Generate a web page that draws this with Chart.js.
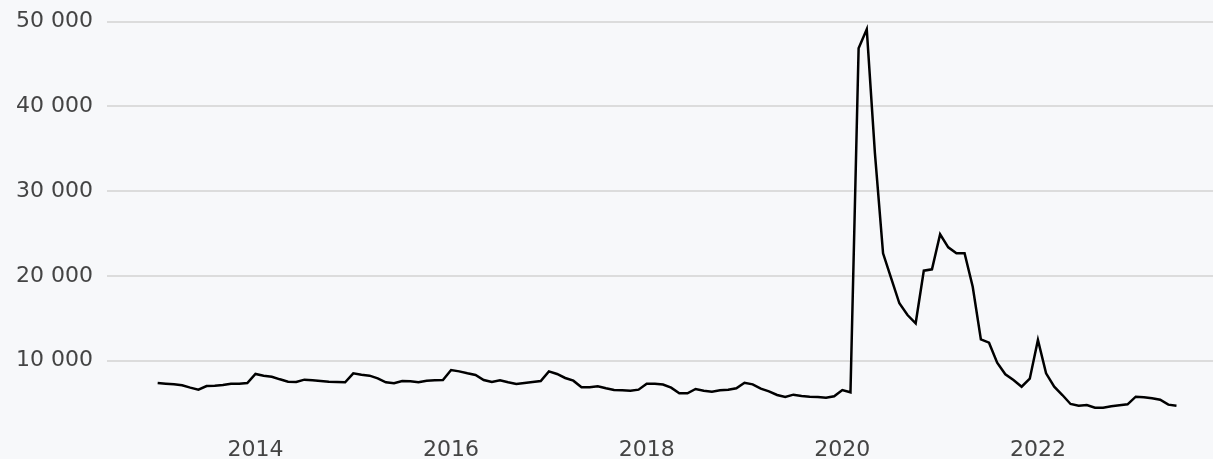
<!DOCTYPE html>
<html>
<head>
<meta charset="utf-8">
<script src="https://cdn.jsdelivr.net/npm/chart.js@4"></script>
<style>
  html, body { margin: 0; padding: 0; background: #f7f8fa; }
  #wrap { width: 1213px; height: 459px; }
</style>
</head>
<body>
<div id="wrap"><canvas id="c" width="1213" height="459"></canvas></div>
<script>
// Monthly series, January 2013 to June 2023
const startYear = 2013;
const values = [
  7370, 7290, 7210, 7090, 6820, 6580, 7010, 7050, 7130, 7290, 7290, 7370,   // 2013
  8430, 8230, 8110, 7800, 7520, 7480, 7760, 7680, 7600, 7520, 7480, 7450,   // 2014
  8510, 8350, 8230, 7920, 7450, 7330, 7600, 7560, 7450, 7640, 7680, 7720,   // 2015
  8900, 8740, 8510, 8310, 7720, 7480, 7680, 7450, 7250, 7370, 7480, 7600,   // 2016
  8740, 8430, 7960, 7640, 6860, 6860, 6980, 6740, 6540, 6500, 6460, 6580,   // 2017
  7290, 7290, 7190, 6820, 6150, 6150, 6660, 6460, 6340, 6500, 6580, 6740,   // 2018
  7400, 7210, 6700, 6380, 5950, 5720, 5990, 5830, 5750, 5720, 5630, 5800,   // 2019
  6540, 6270, 46860, 49100, 34500, 22670, 19720, 16770, 15390, 14410, 20620, 20780, // 2020
  24910, 23380, 22670, 22670, 18730, 12520, 12120, 9760, 8400, 7720, 6930, 7880,   // 2021
  12440, 8510, 6930, 5950, 4890, 4690, 4770, 4450, 4450, 4620, 4730, 4850,  // 2022
  5750, 5680, 5560, 5400, 4810, 4690                                        // 2023
];
// category positions: fractional years (year + month/12)
const months = values.map((_, i) => startYear + i / 12);
const xTicks = [2014, 2016, 2018, 2020, 2022];
const yTicks = [10000, 20000, 30000, 40000, 50000];

const fmt = v => String(v).replace(/\B(?=(\d{3})+(?!\d))/g, ' ');
const FONT = { family: 'DejaVu Sans', size: 22 };
const TEXT = '#444444';

new Chart(document.getElementById('c'), {
  type: 'line',
  data: {
    datasets: [{
      data: months.map((m, i) => ({ x: m, y: values[i] })),
      borderColor: '#000000',
      borderWidth: 2.5,
      pointRadius: 0,
      tension: 0,
      fill: false
    }]
  },
  options: {
    responsive: false,
    animation: false,
    devicePixelRatio: 1,
    layout: { padding: { top: 21.7, right: 0, bottom: 0, left: 0 } },
    plugins: { legend: { display: false }, tooltip: { enabled: false } },
    scales: {
      x: {
        type: 'linear',
        min: 2012.482,
        max: 2023.79,
        afterBuildTicks: s => { s.ticks = xTicks.map(v => ({ value: v })); },
        afterFit: s => { s.height = 39; s.paddingLeft = 0; s.paddingRight = 0; },
        grid: { display: false, drawTicks: false },
        border: { display: false },
        ticks: { color: TEXT, font: FONT, padding: 17, maxRotation: 0, autoSkip: false,
                 callback: v => String(v) }
      },
      y: {
        min: 3000,
        max: 50000,
        afterBuildTicks: s => { s.ticks = yTicks.map(v => ({ value: v })); },
        afterFit: s => { s.width = 107; s.paddingTop = 0; s.paddingBottom = 0; },
        grid: { color: '#dcdcdc', lineWidth: 2, drawTicks: false },
        border: { display: false },
        ticks: { color: TEXT, font: FONT, padding: 14, callback: v => fmt(v) }
      }
    }
  },
  plugins: [{
    id: 'bg',
    beforeDraw: c => {
      const ctx = c.ctx;
      ctx.save();
      ctx.fillStyle = '#f7f8fa';
      ctx.fillRect(0, 0, c.width, c.height);
      ctx.restore();
    }
  }]
});
</script>
</body>
</html>
